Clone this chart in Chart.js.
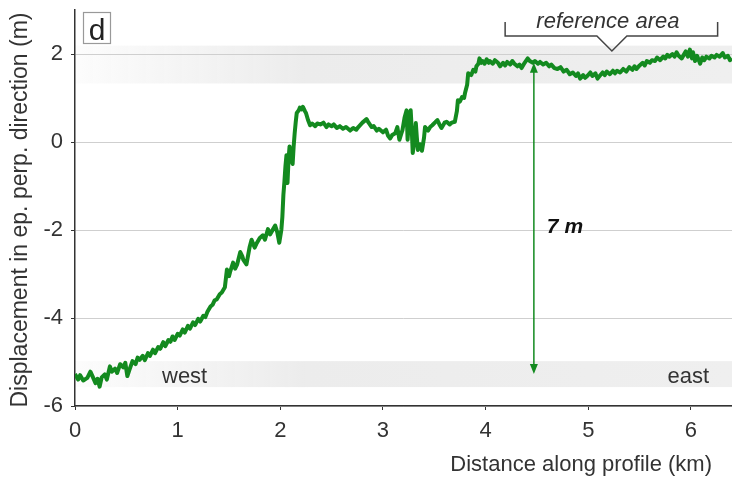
<!DOCTYPE html>
<html>
<head>
<meta charset="utf-8">
<script src="https://cdn.jsdelivr.net/npm/chart.js@4.4.1/dist/chart.umd.min.js"></script>
<style>
  body { margin: 0; background: #fff; }
  #wrap { width: 732px; height: 477px; }
</style>
</head>
<body>
<div id="wrap"><canvas id="profile" width="732" height="477"></canvas></div>
<script>
// distance along profile (km) and displacement (m)
const distKm = [
  0.00, 0.03, 0.05, 0.08, 0.12, 0.15, 0.17, 0.20, 0.22, 0.24,
  0.26, 0.29, 0.31, 0.34, 0.36, 0.39, 0.41, 0.44, 0.47, 0.49,
  0.51, 0.53, 0.56, 0.59, 0.61, 0.63, 0.66, 0.68, 0.71, 0.73,
  0.76, 0.78, 0.81, 0.83, 0.86, 0.88, 0.91, 0.93, 0.95, 0.97,
  1.00, 1.02, 1.05, 1.07, 1.10, 1.12, 1.15, 1.17, 1.20, 1.22,
  1.25, 1.27, 1.29, 1.32, 1.34, 1.36, 1.38, 1.41, 1.43, 1.46,
  1.48, 1.50, 1.51, 1.54, 1.56, 1.58, 1.61, 1.63, 1.64, 1.67,
  1.70, 1.72, 1.75, 1.77, 1.80, 1.83, 1.85, 1.88, 1.90, 1.92,
  1.95, 1.97, 1.99, 2.01, 2.02, 2.03, 2.04, 2.05, 2.06, 2.07,
  2.08, 2.09, 2.10, 2.12, 2.13, 2.14, 2.15, 2.16, 2.18, 2.19,
  2.21, 2.22, 2.24, 2.25, 2.27, 2.29, 2.31, 2.34, 2.36, 2.39,
  2.42, 2.45, 2.47, 2.50, 2.52, 2.55, 2.58, 2.61, 2.64, 2.68,
  2.71, 2.74, 2.76, 2.80, 2.82, 2.84, 2.86, 2.89, 2.91, 2.94,
  2.96, 3.00, 3.03, 3.05, 3.07, 3.09, 3.12, 3.14, 3.16, 3.18,
  3.19, 3.21, 3.23, 3.24, 3.25, 3.27, 3.28, 3.29, 3.31, 3.32,
  3.33, 3.34, 3.36, 3.38, 3.40, 3.41, 3.44, 3.46, 3.48, 3.51,
  3.53, 3.55, 3.57, 3.60, 3.62, 3.65, 3.67, 3.70, 3.72, 3.73,
  3.75, 3.77, 3.79, 3.80, 3.82, 3.83, 3.86, 3.88, 3.90, 3.91,
  3.93, 3.94, 3.96, 3.97, 3.99, 4.01, 4.03, 4.04, 4.07, 4.09,
  4.12, 4.14, 4.17, 4.19, 4.21, 4.24, 4.26, 4.28, 4.31, 4.33,
  4.35, 4.38, 4.41, 4.43, 4.46, 4.48, 4.51, 4.53, 4.56, 4.59,
  4.62, 4.64, 4.67, 4.70, 4.73, 4.76, 4.79, 4.82, 4.85, 4.88,
  4.90, 4.92, 4.95, 4.97, 4.99, 5.02, 5.04, 5.07, 5.09, 5.11,
  5.14, 5.16, 5.18, 5.21, 5.24, 5.26, 5.28, 5.31, 5.34, 5.37,
  5.40, 5.43, 5.45, 5.47, 5.50, 5.53, 5.55, 5.57, 5.60, 5.62,
  5.65, 5.67, 5.70, 5.73, 5.75, 5.77, 5.79, 5.82, 5.84, 5.86,
  5.88, 5.91, 5.93, 5.95, 5.97, 5.99, 6.01, 6.02, 6.04, 6.06,
  6.09, 6.11, 6.13, 6.15, 6.18, 6.20, 6.23, 6.25, 6.28, 6.31,
  6.33, 6.36, 6.38, 6.40
];
const dispM = [
  -5.27, -5.40, -5.30, -5.42, -5.36, -5.22, -5.32, -5.48, -5.38, -5.56,
  -5.35, -5.28, -5.40, -5.10, -5.22, -5.15, -5.25, -5.05, -5.12, -5.02,
  -5.32, -5.18, -4.98, -5.05, -4.90, -4.95, -4.86, -4.96, -4.80, -4.86,
  -4.72, -4.80, -4.66, -4.70, -4.55, -4.64, -4.50, -4.54, -4.42, -4.50,
  -4.36, -4.40, -4.26, -4.33, -4.18, -4.24, -4.10, -4.16, -4.02, -4.08,
  -3.95, -3.98, -3.86, -3.74, -3.70, -3.60, -3.58, -3.46, -3.42, -3.30,
  -2.90, -3.05, -2.96, -2.74, -2.88, -2.78, -2.50, -2.60, -2.68, -2.78,
  -2.40, -2.22, -2.40, -2.30, -2.18, -2.12, -2.22, -1.98, -2.10, -2.02,
  -1.90, -2.05, -2.29, -2.00, -1.70, -1.20, -0.90, -0.55, -0.30, -0.93,
  -0.40, -0.10, -0.35, -0.50, -0.10, 0.20, 0.45, 0.66, 0.72, 0.78,
  0.74, 0.80, 0.70, 0.66, 0.50, 0.38, 0.42, 0.36, 0.42, 0.40,
  0.44, 0.34, 0.40, 0.36, 0.40, 0.32, 0.36, 0.30, 0.34, 0.26,
  0.32, 0.28, 0.34, 0.44, 0.48, 0.52, 0.44, 0.34, 0.36, 0.26,
  0.30, 0.22, 0.28, 0.14, 0.08, 0.16, 0.20, 0.34, 0.05, 0.20,
  0.27, 0.55, 0.72, 0.05, 0.40, 0.72, 0.30, -0.25, 0.10, 0.43,
  0.10, -0.18, -0.05, -0.20, 0.10, 0.34, 0.26, 0.34, 0.38, 0.45,
  0.50, 0.40, 0.32, 0.44, 0.46, 0.40, 0.44, 0.46, 0.70, 0.95,
  0.92, 1.02, 1.00, 1.12, 1.30, 1.56, 1.52, 1.64, 1.60, 1.72,
  1.78, 1.90, 1.80, 1.84, 1.78, 1.88, 1.80, 1.84, 1.78, 1.86,
  1.80, 1.72, 1.80, 1.74, 1.82, 1.76, 1.84, 1.78, 1.72, 1.76,
  1.68, 1.80, 1.90, 1.84, 1.80, 1.84, 1.78, 1.82, 1.76, 1.80,
  1.72, 1.76, 1.68, 1.66, 1.70, 1.60, 1.64, 1.54, 1.58, 1.50,
  1.56, 1.44, 1.52, 1.46, 1.50, 1.58, 1.50, 1.56, 1.44, 1.50,
  1.58, 1.52, 1.60, 1.54, 1.62, 1.56, 1.62, 1.58, 1.66, 1.60,
  1.70, 1.64, 1.72, 1.66, 1.74, 1.80, 1.74, 1.84, 1.80, 1.86,
  1.84, 1.92, 1.86, 1.94, 1.90, 1.98, 1.94, 2.00, 1.94, 2.04,
  1.96, 1.90, 1.98, 2.06, 1.94, 2.10, 1.90, 2.04, 1.84, 1.96,
  1.78, 1.92, 1.86, 1.94, 1.90, 1.96, 1.92, 1.98, 1.94, 2.02,
  1.92, 1.96, 1.86, 1.90
];
const xTicks = [0, 1, 2, 3, 4, 5, 6];
const yTicks = [-6, -4, -2, 0, 2];

const FONT = '"Liberation Sans", Arial, sans-serif';
const GREEN = '#138a1f';

// shaded bands (m) and the 7 m arrow / reference bracket (km, m)
const bands = [[2.19, 1.33], [-4.98, -5.57]];
const arrowKm = 4.47, arrowTop = 1.8, arrowBottom = -5.27;
const refFrom = 4.19, refTo = 6.26, refMid = 5.23;

const extras = {
  id: 'extras',
  beforeDraw(chart) {
    const { ctx, scales: { x, y } } = chart;
    const x0 = x.getPixelForValue(0), x1 = x.getPixelForValue(6.4);
    ctx.save();
    bands.forEach(b => {
      const g = ctx.createLinearGradient(x0, 0, x1, 0);
      g.addColorStop(0, 'rgba(236,236,236,0.15)');
      g.addColorStop(0.35, '#ececec');
      g.addColorStop(1, '#efefef');
      ctx.fillStyle = g;
      const ya = y.getPixelForValue(b[0]), yb = y.getPixelForValue(b[1]);
      ctx.fillRect(x0, ya, x1 - x0, yb - ya);
    });
    ctx.restore();
  },
  afterDraw(chart) {
    const { ctx, scales: { x, y } } = chart;
    ctx.save();

    // arrow
    const ax = x.getPixelForValue(arrowKm);
    const at = y.getPixelForValue(arrowTop), ab = y.getPixelForValue(arrowBottom);
    ctx.strokeStyle = GREEN; ctx.fillStyle = GREEN; ctx.lineWidth = 1.5;
    ctx.beginPath(); ctx.moveTo(ax, at + 6); ctx.lineTo(ax, ab - 6); ctx.stroke();
    ctx.beginPath(); ctx.moveTo(ax, at); ctx.lineTo(ax - 4, at + 10); ctx.lineTo(ax + 4, at + 10); ctx.fill();
    ctx.beginPath(); ctx.moveTo(ax, ab); ctx.lineTo(ax - 4, ab - 10); ctx.lineTo(ax + 4, ab - 10); ctx.fill();

    ctx.fillStyle = '#111';
    ctx.font = 'italic bold 21px ' + FONT;
    ctx.textAlign = 'left'; ctx.textBaseline = 'alphabetic';
    ctx.fillText('7 m', ax + 13, 233);

    // reference bracket
    const r0 = x.getPixelForValue(refFrom), r1 = x.getPixelForValue(refTo), rm = x.getPixelForValue(refMid);
    ctx.strokeStyle = '#444'; ctx.lineWidth = 1.5;
    ctx.beginPath();
    ctx.moveTo(r0, 22); ctx.lineTo(r0, 36); ctx.lineTo(rm - 15, 36); ctx.lineTo(rm, 51);
    ctx.lineTo(rm + 15, 36); ctx.lineTo(r1, 36); ctx.lineTo(r1, 22);
    ctx.stroke();
    ctx.fillStyle = '#333';
    ctx.font = 'italic 22px ' + FONT;
    ctx.textAlign = 'center';
    ctx.fillText('reference area', rm - 4, 28);

    // west / east
    ctx.font = '22px ' + FONT;
    ctx.textAlign = 'left';
    ctx.fillText('west', 162, 383);
    ctx.textAlign = 'right';
    ctx.fillText('east', 709, 383);

    // panel letter
    ctx.strokeStyle = '#999'; ctx.lineWidth = 1.2;
    ctx.strokeRect(83.5, 12.5, 27, 31);
    ctx.fillStyle = '#222';
    ctx.font = '30px ' + FONT;
    ctx.textAlign = 'center';
    ctx.fillText('d', 97, 40);

    // axis titles
    ctx.fillStyle = '#333';
    ctx.font = '22px ' + FONT;
    ctx.textAlign = 'right';
    ctx.fillText('Distance along profile (km)', 712, 471);
    ctx.font = '23px ' + FONT;
    ctx.translate(21, 210);
    ctx.rotate(-Math.PI / 2);
    ctx.textAlign = 'center'; ctx.textBaseline = 'middle';
    ctx.fillText('Displacement in ep. perp. direction (m)', 0, 0);
    ctx.restore();
  }
};

const ctx = document.getElementById('profile');
const profile = new Chart(ctx, {
  type: 'line',
  data: {
    datasets: [{
      data: distKm.map((d, i) => ({ x: d, y: dispM[i] })),
      borderColor: GREEN,
      borderWidth: 4,
      borderJoinStyle: 'round',
      pointRadius: 0,
      tension: 0,
      fill: false
    }]
  },
  options: {
    responsive: false,
    animation: false,
    layout: { padding: { top: 10, right: 0, left: 0, bottom: 0 } },
    plugins: { legend: { display: false }, tooltip: { enabled: false } },
    scales: {
      x: {
        type: 'linear',
        min: 0, max: 6.4,
        afterBuildTicks: s => { s.ticks = xTicks.map(v => ({ value: v })); },
        afterFit: s => { s.height = 71; s.paddingLeft = 0; s.paddingRight = 0; },
        ticks: { color: '#333', font: { family: FONT, size: 22 }, padding: 8, maxRotation: 0 },
        grid: { drawOnChartArea: false, drawTicks: true, tickLength: 4, tickColor: '#333' },
        border: { color: '#333', width: 1.5 }
      },
      y: {
        min: -6, max: 3,
        afterBuildTicks: s => { s.ticks = yTicks.map(v => ({ value: v })); },
        afterFit: s => { s.width = 75; s.paddingTop = 0; s.paddingBottom = 0; },
        ticks: { color: '#333', font: { family: FONT, size: 22 }, padding: 8 },
        grid: { color: '#cfcfcf', lineWidth: 1, tickLength: 4, tickColor: '#333' },
        border: { color: '#333', width: 1.5 }
      }
    }
  },
  plugins: [extras]
});
</script>
</body>
</html>
